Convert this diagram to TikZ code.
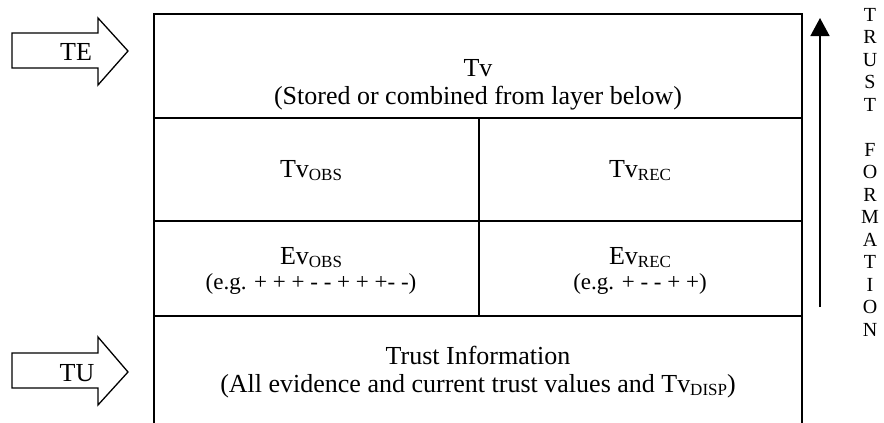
\documentclass[tikz,border=0pt]{standalone}
\usepackage{fontspec}
\setmainfont{Liberation Serif}
\usetikzlibrary{arrows.meta}
\newcommand\lowsub[1]{\raisebox{-0.14em}{\fontsize{17}{17}\selectfont #1}}
\tikzset{
  frame/.style={line width=1.6pt, line cap=rect},
  blockarrow/.style={draw, line width=1.3pt, line join=miter, fill=white},
  txt/.style={font=\fontsize{26}{30}\selectfont, inner sep=0pt, anchor=base},
  smalltxt/.style={font=\fontsize{23}{27}\selectfont, inner sep=0pt, anchor=base},
  vtxt/.style={font=\fontsize{20}{22}\selectfont, inner sep=0pt, anchor=base},
  flow/.style={line width=1.5pt, -{Triangle[width=19pt,length=18pt]}}
}
\begin{document}
\begin{tikzpicture}[x=1pt,y=-1pt]
\useasboundingbox (0,0) rectangle (884,423);
% main frame
\coordinate (bl) at (154,423);
\coordinate (tl) at (154,14);
\coordinate (tr) at (802,14);
\coordinate (br) at (802,423);
\draw[frame] (bl) -- (tl) -- (tr) -- (br);
\draw[frame] (154,118) -- (802,118);
\draw[frame] (154,221) -- (802,221);
\draw[frame] (154,316) -- (802,316);
\draw[frame] (479,118) -- (479,316);
% texts
\node[txt] (tv) at (478,76) {Tv};
\node[txt] (tvsub) at (478,104) {(Stored or combined from layer below)};
\node[txt] (tvobs) at (311,177) {Tv\lowsub{OBS}};
\node[txt] (tvrec) at (640,177) {Tv\lowsub{REC}};
\node[txt] (evobs) at (311,264) {Ev\lowsub{OBS}};
\node[smalltxt] (evobsx) at (311,289) {(e.g. + + + - - + + +- -)};
\node[txt] (evrec) at (640,264) {Ev\lowsub{REC}};
\node[smalltxt] (evrecx) at (640,289) {(e.g. + - - + +)};
\node[txt] (ti) at (478,364) {Trust Information};
\node[txt] (tix) at (478,392) {(All evidence and current trust values and Tv\lowsub{DISP})};
% block arrows
\draw[blockarrow] (12,33) -- (98,33) -- (98,18) -- (128,51) -- (98,85) -- (98,68) -- (12,68) -- cycle;
\node[txt] (te) at (76,60) {TE};
\draw[blockarrow] (12,353) -- (98,353) -- (98,337) -- (128,372) -- (98,405) -- (98,388) -- (12,388) -- cycle;
\node[txt] (tu) at (77,381) {TU};
% trust formation arrow
\coordinate (fs) at (820,307);
\coordinate (fe) at (820,18);
\draw[flow] (fs) -- (fe);
\foreach \k/\ch in {0/T,1/R,2/U,3/S,4/T,6/F,7/O,8/R,9/M,10/A,11/T,12/I,13/O,14/N}
  \node[vtxt] (tf\k) at (870,{21+22.5*\k}) {\ch};
\end{tikzpicture}
\end{document}
